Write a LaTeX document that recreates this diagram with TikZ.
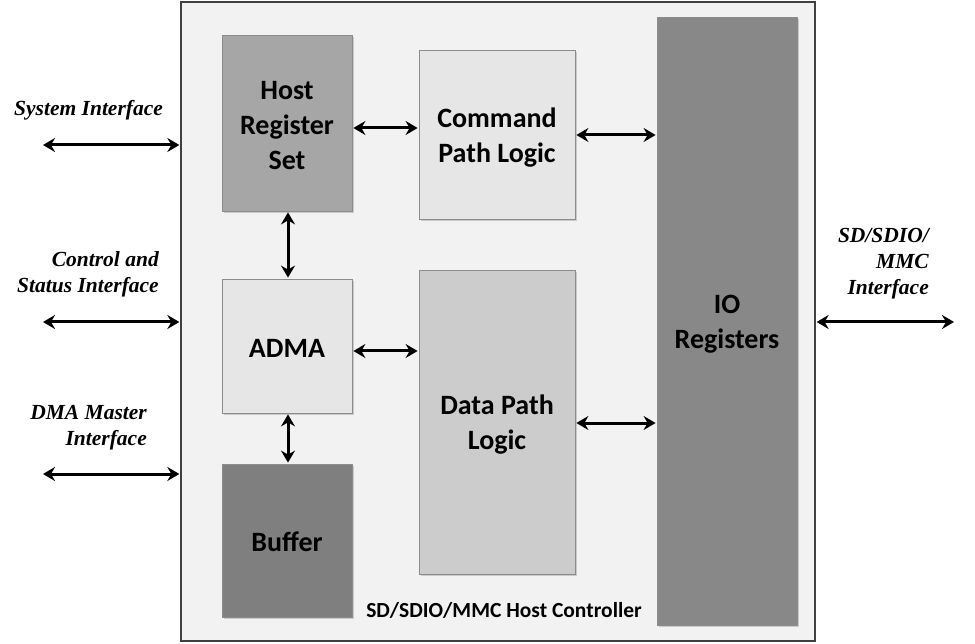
\documentclass[tikz,border=0pt]{standalone}
\usepackage{fontspec}
\setmainfont{Carlito}
\newfontfamily\ifacefont{Liberation Serif}
\usetikzlibrary{arrows.meta,shadows}
\definecolor{contbg}{HTML}{F2F2F2}
\definecolor{hostc}{HTML}{A6A6A6}
\definecolor{lightc}{HTML}{E6E6E6}
\definecolor{datac}{HTML}{CCCCCC}
\definecolor{ioc}{HTML}{888888}
\definecolor{bufc}{HTML}{7F7F7F}
\tikzset{
  blk/.style={draw=black!45, line width=0.8pt, inner sep=0pt,
    drop shadow={shadow xshift=2pt, shadow yshift=-2pt, opacity=0.35}},
  blktxt/.style={inner sep=0pt, align=center, font=\fontsize{28}{35}\selectfont\bfseries},
  iface/.style={font=\ifacefont\fontsize{21.5}{26}\selectfont\bfseries\itshape, inner sep=0pt},
  bi/.style={line width=3pt, {Stealth[length=12pt,width=14pt,inset=4pt]}-{Stealth[length=12pt,width=14pt,inset=4pt]}, shorten <=1pt, shorten >=1pt}
}
\begin{document}
\begin{tikzpicture}[x=1pt,y=-1pt]
\useasboundingbox (0,0) rectangle (975,644);
\fill[white] (0,0) rectangle (975,644);
% container
\node[draw=black!75, line width=1.3pt, fill=contbg, minimum width=634pt, minimum height=639pt, inner sep=0pt] (cont) at (498,321.5) {};
% blocks
\node[blk, fill=hostc, minimum width=130pt, minimum height=176pt] (host) at (287,123) {};
\node[blk, fill=lightc, minimum width=156pt, minimum height=169pt] (cmd) at (497,134.5) {};
\node[blk, fill=ioc, minimum width=140pt, minimum height=608pt] (io) at (727,321) {};
\node[blk, fill=lightc, minimum width=130pt, minimum height=134pt] (adma) at (287,346) {};
\node[blk, fill=datac, minimum width=156pt, minimum height=304pt] (data) at (497,422) {};
\node[blk, fill=bufc, minimum width=130pt, minimum height=153pt] (buf) at (287,540.5) {};
% block labels
\node[blktxt] (hostT) at ([yshift=-2.5pt]host.center) {Host\\Register\\Set};
\node[blktxt] (cmdT) at ([yshift=-3pt]cmd.center) {Command\\Path Logic};
\node[blktxt] (ioT) at ([yshift=-3pt]io.center) {IO\\Registers};
\node[blktxt] (admaT) at ([yshift=-2pt]adma.center) {ADMA};
\node[blktxt] (dataT) at ([yshift=-3pt]data.center) {Data Path\\Logic};
\node[blktxt] (bufT) at ([yshift=-1pt]buf.center) {Buffer};
\node[font=\fontsize{21.5}{24}\selectfont\bfseries, inner sep=0pt] (cap) at (504,610) {SD/SDIO/MMC Host Controller};
% internal arrows
\draw[bi] (host.east |- 0,128) -- (cmd.west |- 0,128);
\draw[bi] (cmd.east |- 0,135) -- (io.west |- 0,135);
\draw[bi] (host.south -| 288,0) -- (adma.north -| 288,0);
\draw[bi] (adma.east |- 0,351) -- (data.west |- 0,351);
\draw[bi] (adma.south -| 288,0) -- (buf.north -| 288,0);
\draw[bi] (data.east |- 0,423) -- (io.west |- 0,423);
% external interfaces
\coordinate (sysL) at (42,145);
\coordinate (ctlL) at (42,322);
\coordinate (dmaL) at (42,474);
\coordinate (sdR) at (955,322);
\draw[bi] (sysL) -- (cont.west |- sysL);
\draw[bi] (ctlL) -- (cont.west |- ctlL);
\draw[bi] (dmaL) -- (cont.west |- dmaL);
\draw[bi] (cont.east |- sdR) -- (sdR);
\node[iface, anchor=base west] (sysT) at (14,116) {System Interface};
\node[iface, anchor=base east, align=right] (ctlT) at (159,293) {Control and\\Status Interface};
\node[iface, anchor=base east, align=right] (dmaT) at (147,445) {DMA Master\\Interface};
\node[iface, anchor=base east, align=right] (sdT) at (929,295) {SD/SDIO/\\MMC\\Interface};
\end{tikzpicture}
\end{document}
